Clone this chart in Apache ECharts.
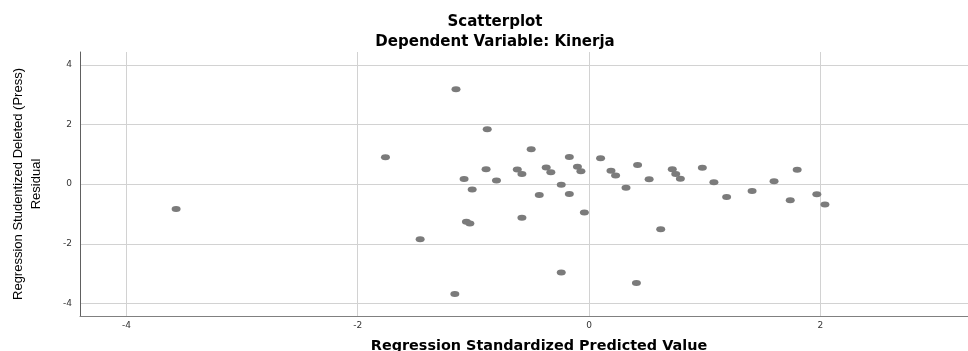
<!DOCTYPE html>
<html>
<head>
<meta charset="utf-8">
<script src="https://cdn.jsdelivr.net/npm/echarts@6/dist/echarts.min.js"></script>
<style>
  html, body { margin: 0; padding: 0; background: #fff; }
  #chart { width: 968px; height: 351px; }
</style>
</head>
<body>
<div id="chart"></div>
<script>
// Regression Standardized Predicted Value
const predicted = [
  -3.57, -1.76, -1.15, -0.88, -0.50, -0.17, 0.10, 0.42,
  -0.89, -0.62, -0.58, -0.37, -0.33, -0.10, -0.07, 0.19,
  0.23, 0.72, 0.75, 0.79, 0.98, -1.08, -1.01, -0.80,
  -0.24, -0.43, -0.17, -0.04, 0.32, 0.52, 1.08, 1.19,
  1.41, 1.60, 1.74, 1.80, 1.97, 2.04, -1.06, -1.03,
  -0.58, -1.46, 0.62, -0.24, 0.41, -1.16
];
// Regression Studentized Deleted (Press) Residual
const residual = [
  -0.83, 0.90, 3.18, 1.84, 1.17, 0.91, 0.87, 0.64,
  0.50, 0.49, 0.34, 0.56, 0.40, 0.58, 0.43, 0.45,
  0.29, 0.50, 0.34, 0.18, 0.55, 0.17, -0.18, 0.12,
  -0.02, -0.36, -0.33, -0.95, -0.12, 0.16, 0.06, -0.43,
  -0.23, 0.10, -0.54, 0.48, -0.34, -0.68, -1.26, -1.32,
  -1.13, -1.85, -1.51, -2.96, -3.31, -3.68
];
const xTicks = [-4, -2, 0, 2];
const yTicks = [-4, -2, 0, 2, 4];
const xRange = [-4.401, 3.277];
const yRange = [-4.418, 4.428];

const titleText = 'Scatterplot';
const subtitleText = 'Dependent Variable: Kinerja';
const xName = 'Regression Standardized Predicted Value';
const yName = 'Regression Studentized Deleted (Press)\nResidual';

const points = predicted.map((x, i) => [x, residual[i]]);
const xStep = xTicks[1] - xTicks[0];
const yStep = yTicks[1] - yTicks[0];

const chart = echarts.init(document.getElementById('chart'), null, { renderer: 'canvas' });
const gridColor = '#d2d2d2';
const axisColor = '#808080';
const labelStyle = { color: '#333', fontSize: 9, fontFamily: 'DejaVu Sans' };

chart.setOption({
  animation: false,
  backgroundColor: '#ffffff',
  title: [
    { text: titleText, left: 490, top: 10, textAlign: 'center',
      textStyle: { fontFamily: 'DejaVu Sans', fontWeight: 'bold', fontSize: 15, color: '#000' } },
    { text: subtitleText, left: 490, top: 30, textAlign: 'center',
      textStyle: { fontFamily: 'DejaVu Sans', fontWeight: 'bold', fontSize: 15, color: '#000' } }
  ],
  grid: { left: 80, right: 0, top: 52, bottom: 35, containLabel: false, outerBoundsMode: 'none' },
  xAxis: {
    type: 'value',
    min: xRange[0], max: xRange[1],
    minInterval: xStep, maxInterval: xStep,
    name: xName,
    nameLocation: 'middle',
    nameGap: 23,
    nameTextStyle: { fontFamily: 'DejaVu Sans', fontWeight: 'bold', fontSize: 14.4, color: '#000', padding: [0, 0, 0, 30] },
    axisLine: { show: true, onZero: false, lineStyle: { color: axisColor, width: 1 } },
    axisTick: { show: false },
    axisLabel: { ...labelStyle, margin: 5, showMinLabel: false, showMaxLabel: false,
      formatter: v => xTicks.includes(Math.round(v * 1000) / 1000) ? String(v) : '' },
    splitLine: { show: true, showMinLine: false, showMaxLine: false, lineStyle: { color: gridColor, width: 1 } }
  },
  yAxis: {
    type: 'value',
    min: yRange[0], max: yRange[1],
    minInterval: yStep, maxInterval: yStep,
    name: yName,
    nameLocation: 'middle',
    nameRotate: 90,
    nameGap: 35,
    nameTextStyle: { fontFamily: "'Liberation Sans Narrow', 'Liberation Sans', Arial", fontSize: 13, color: '#000', lineHeight: 18, align: 'center' },
    axisLine: { show: true, onZero: false, lineStyle: { color: '#606060', width: 1 } },
    axisTick: { show: false },
    axisLabel: { ...labelStyle, margin: 8, showMinLabel: false, showMaxLabel: false,
      formatter: v => yTicks.includes(Math.round(v * 1000) / 1000) ? String(v) : '' },
    splitLine: { show: true, showMinLine: false, showMaxLine: false, lineStyle: { color: gridColor, width: 1 } }
  },
  series: [{
    type: 'scatter',
    data: points,
    symbol: 'path://M0,5 A5,5 0 1,1 10,5 A5,5 0 1,1 0,5 Z',
    symbolSize: [9, 6],
    itemStyle: { color: '#7b7b7b', opacity: 1 },
    emphasis: { disabled: true }
  }]
});
</script>
</body>
</html>
